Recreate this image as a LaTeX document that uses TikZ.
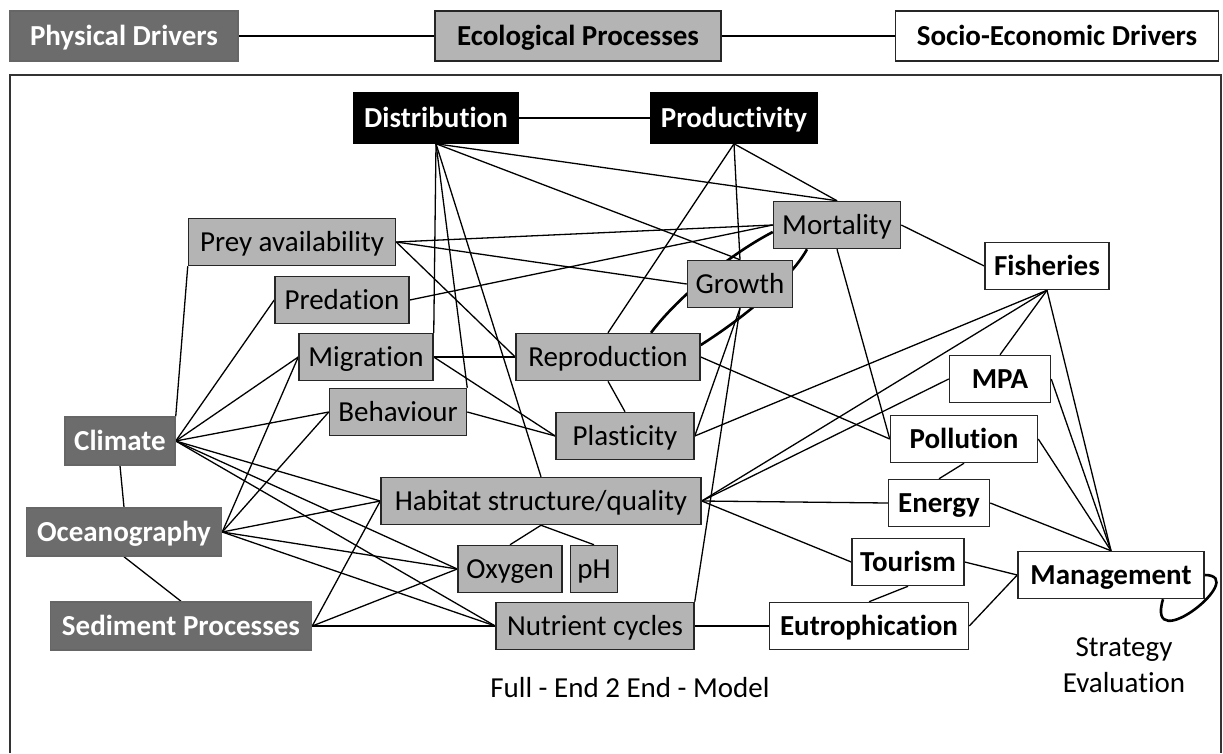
\documentclass[tikz,border=0pt]{standalone}
\usepackage{fontspec}
\setmainfont{Carlito}[Ligatures=NoCommon]
\usepackage{tikz}
\usetikzlibrary{backgrounds}
\usepackage{xcolor}
\definecolor{drivergray}{RGB}{108,108,108}
\definecolor{procgray}{RGB}{180,180,180}
\newcommand{\diagfont}{\fontsize{29}{36}\selectfont}

\begin{document}
\begin{tikzpicture} [
		x=1pt, y=-1pt,
		every node/.style={font=\diagfont},
		box/.style     = { rectangle, line width=1.5pt, inner sep=0pt,
			text height=22.5pt, text depth=3.5pt },
		phys/.style    = { box, draw=black!60, fill=drivergray,
			text=white, font=\diagfont\bfseries, minimum height=48pt },
		proc/.style    = { box, draw=black!85, fill=procgray,
			minimum height=47pt },
		focus/.style   = { box, draw=black, fill=black, text=white,
			font=\diagfont\bfseries, minimum height=50pt },
		socio/.style   = { box, draw=black!85, fill=white,
			font=\diagfont\bfseries, minimum height=47pt },
		line/.style    = { draw, line width=1.3pt },
		cyc/.style     = { draw, line width=2.6pt },
		]
		\useasboundingbox (0,0) rectangle (1223,753);
		% header row
		\node [phys, minimum width=228pt, minimum height=50pt] (pd) at (124,36) {Physical Drivers};
		\node [proc, font=\diagfont\bfseries, minimum width=286pt, minimum height=50pt] (ep) at (578,36) {Ecological Processes};
		\node [socio, minimum width=323pt, minimum height=50pt] (se) at (1057,36) {Socio-Economic Drivers};
		\draw [line width=1.8pt, black!80] (10,753) -- (10,75) -- (1221,75) -- (1221,753);
		
		% model nodes
		\node [focus, minimum width=165pt] (dist) at (436,118) {Distribution};
		\node [focus, minimum width=166pt] (prod) at (734,118) {Productivity};
		\node [proc, minimum width=127pt] (mort) at (837,225) {Mortality};
		\node [proc, minimum width=207pt] (prey) at (292,242) {Prey availability};
		\node [proc, minimum width=105pt] (gro) at (740,284) {Growth};
		\node [proc, minimum width=134pt] (pred) at (342,300) {Predation};
		\node [proc, minimum width=134pt] (mig) at (366,357) {Migration};
		\node [proc, minimum width=184pt] (rep) at (608,357) {Reproduction};
		\node [proc, minimum width=137pt] (beh) at (398,412) {Behaviour};
		\node [proc, minimum width=138pt] (pla) at (625,436) {Plasticity};
		\node [proc, minimum width=320pt] (hab) at (541,501) {Habitat structure/quality};
		\node [proc, minimum width=104pt] (oxy) at (510,569) {Oxygen};
		\node [proc, minimum width=47pt] (ph) at (594,569) {pH};
		\node [proc, minimum width=198pt] (nut) at (595,626) {Nutrient cycles};
		\node [phys, minimum width=110pt] (cl) at (120,441) {Climate};
		\node [phys, minimum width=195pt] (oc) at (124,532) {Oceanography};
		\node [phys, minimum width=261pt] (sed) at (181,626) {Sediment Processes};
		\node [socio, minimum width=124pt] (fish) at (1047,266) {Fisheries};
		\node [socio, minimum width=101pt] (mpa) at (1000,379) {MPA};
		\node [socio, minimum width=147pt] (pol) at (964,439) {Pollution};
		\node [socio, minimum width=101pt] (en) at (939,503) {Energy};
		\node [socio, minimum width=112pt] (tour) at (908,562) {Tourism};
		\node [socio, minimum width=186pt] (man) at (1111,575) {Management};
		\node [socio, minimum width=199pt] (eut) at (869,626) {Eutrophication};
		\node (e2e) at (630,688) {Full - End 2 End - Model};
		\node [align=center] (mse) at (1124,665) {Strategy\\Evaluation};
		
		% connect all nodes defined above
		\begin{scope} [on background layer, every path/.style=line]
		\path (pd) -- (ep);
		\path (ep) -- (se);
		\path (dist) -- (prod);
		\path (dist.south) -- (mort.north);
		\path (dist.south) -- (gro.north);
		\path (dist.south) -- (mig.north east);
		\path (dist.south) -- (beh.north east);
		\path (dist.south) -- (hab.north);
		\path (prod.south) -- (mort.north);
		\path (prod.south) -- (gro.north);
		\path (prod.south) -- (rep.north);
		\path (prey.east) -- (mort.west);
		\path (prey.east) -- (gro.west);
		\path (prey.east) -- (rep.west);
		\path (pred.east) -- (mort.west);
		\path (cl.north east) -- (prey.south west);
		\path (cl.east) -- (pred.west);
		\path (cl.east) -- (mig.west);
		\path (cl.east) -- (beh.west);
		\path (cl.east) -- (hab.west);
		\path (cl.east) -- (oxy.west);
		\path (cl.east) -- (nut.west);
		\path (cl.south) -- (oc.north);
		\path (oc.east) -- (mig.west);
		\path (oc.east) -- (beh.west);
		\path (oc.east) -- (hab.west);
		\path (oc.east) -- (oxy.west);
		\path (oc.east) -- (nut.west);
		\path (oc.south) -- (sed.north);
		\path (sed.east) -- (hab.west);
		\path (sed.east) -- (oxy.west);
		\path (sed.east) -- (nut.west);
		\path (mig.east) -- (rep.west);
		\path (mig.east) -- (pla.west);
		\path (beh.east) -- (pla.west);
		\path (rep.south) -- (pla.north);
		\path (rep.east) -- (pol.west);
		\path (gro.south) -- (pla.east);
		\path (gro.south) -- (nut.north east);
		\path (mort.east) -- (fish.west);
		\path (mort.south) -- (pol.west);
		\path (hab.south) -- (oxy.north);
		\path (hab.south) -- (ph.north);
		% links to the socio-economic side
		\path (pla.east) -- (fish.south);
		\path (hab.east) -- (fish.south);
		\path (hab.east) -- (mpa.west);
		\path (hab.east) -- (en.west);
		\path (hab.east) -- (tour.west);
		\path (nut.east) -- (eut.west);
		\path (fish.south) -- (mpa.north);
		\path (fish.south) -- (man.north);
		\path (mpa.east) -- (man.north);
		\path (pol.east) -- (man.north);
		\path (pol.south) -- (en.north);
		\path (en.east) -- (man.north);
		\path (tour.east) -- (man.west);
		\path (tour.south) -- (eut.north);
		\path (eut.east) -- (man.west);
		\end{scope}
		% life cycle loop and strategy evaluation
		\begin{scope} [on background layer, every path/.style=cyc]
		\path ([xshift=43pt]rep.north) .. controls +(23,-31) and +(-48,25) .. ([yshift=-7pt]mort.west);
		\path ([xshift=-30pt]mort.south) .. controls +(-17,31) and +(41,-26) .. ([yshift=12pt]rep.east);
		\end{scope}
		\path [cyc] (man.east) .. controls +(46,0) and +(-18,60) .. ([xshift=52pt]man.south);
		\end{tikzpicture}
\end{document}
